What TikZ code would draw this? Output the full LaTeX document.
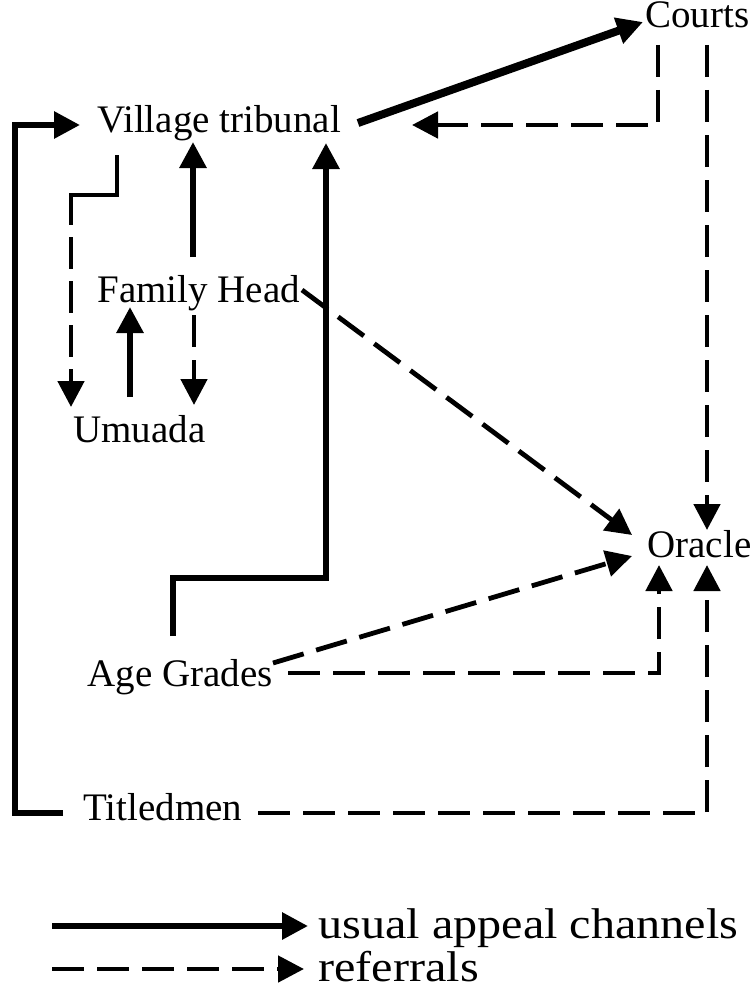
\documentclass[tikz,border=0pt]{standalone}
\usepackage{fontspec}
\setmainfont{Liberation Serif}
\usetikzlibrary{arrows.meta}

\begin{document}
\begin{tikzpicture}[x=0.5pt, y=-0.5pt,
    lbl/.style={inner sep=0pt, anchor=base west, font=\fontsize{19.5}{22}\selectfont},
    keylbl/.style={inner sep=0pt, anchor=base west, xscale=1.12, font=\fontsize{21.5}{26}\selectfont},
    appeal/.style={line width=3pt, -{Triangle[length=13pt,width=13pt]}},
    referral/.style={line width=2.4pt, dash pattern=on 16pt off 6.5pt, -{Triangle[length=13pt,width=13pt]}}]

    \useasboundingbox (0,0) rectangle (753,995);

    \node[lbl] (vt) at (97,133) {Village tribunal};
    \node[lbl] (courts) at (645,28) {Courts};
    \node[lbl] (fh) at (97,302) {Family Head};
    \node[lbl] (um) at (73,442) {Umuada};
    \node[lbl] (oracle) at (647,557) {Oracle};
    \node[lbl] (ag) at (87,686) {Age Grades};
    \node[lbl] (tm) at (83,820) {Titledmen};

    % appeal channels
    \draw[appeal] ([shift={(-10pt,3.5pt)}]tm.base west) -- ++(-48,0) |- ([shift={(-8.5pt,4pt)}]vt.base west);
    \draw[appeal, line width=4pt] ([shift={(130.5pt,5pt)}]vt.base west) -- ([shift={(-1pt,3pt)}]courts.base west);
    \draw[appeal] ([shift={(43pt,25pt)}]ag.base west) -- ++(0,-58) -| ([shift={(114.5pt,-5pt)}]vt.base west);
    \draw[appeal] ([shift={(48pt,22.5pt)}]fh.base west) -- ++(0,-115);
    \draw[appeal] ([shift={(28.5pt,22.5pt)}]um.base west) -- ++(0,-90);

    % referrals
    \draw[referral] ([shift={(6.5pt,-8.5pt)}]courts.base west) |- ([shift={(157.5pt,4pt)}]vt.base west);
    \draw[referral] ([shift={(31pt,-8.5pt)}]courts.base west) -- ++(0,485);
    \draw[referral, dash pattern=on 58pt off 6pt on 16pt off 6pt on 16pt off 6pt on 16pt off 6pt on 16pt off 6pt]
        ([shift={(10pt,-11pt)}]vt.base west) -- ++(0,40) -| ([shift={(-1pt,17.5pt)}]um.base west);
    \draw[referral] ([shift={(48.5pt,-6.5pt)}]fh.base west) -- ++(0,90);
    \draw[referral] ([shift={(102.5pt,6pt)}]fh.base west) -- ([shift={(-7.5pt,11pt)}]oracle.base west);
    \draw[referral] ([shift={(93pt,11.5pt)}]ag.base west) -- ([shift={(-7.5pt,0.5pt)}]oracle.base west);
    \draw[referral] ([shift={(100.5pt,6.5pt)}]ag.base west) -| ([shift={(6pt,-4pt)}]oracle.base west);
    \draw[referral] ([shift={(87.5pt,3.5pt)}]tm.base west) -| ([shift={(30pt,-4pt)}]oracle.base west);

    % key
    \node[keylbl] (keyappeal) at (318,938) {usual appeal channels};
    \node[keylbl] (keyreferral) at (318,981) {referrals};
    \draw[appeal] ([shift={(-133pt,6pt)}]keyappeal.base west) -- ([shift={(-5pt,6pt)}]keyappeal.base west);
    \draw[referral] ([shift={(-133pt,6pt)}]keyreferral.base west) -- ([shift={(-7pt,6pt)}]keyreferral.base west);

\end{tikzpicture}
\end{document}
